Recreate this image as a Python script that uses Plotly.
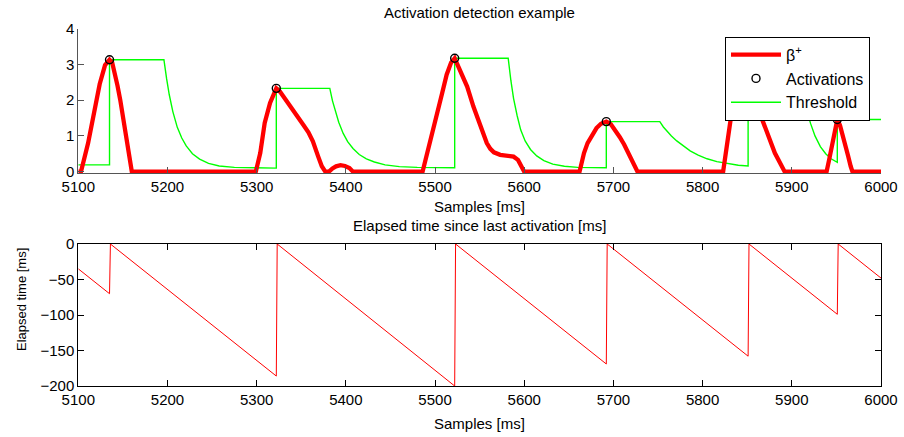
import plotly.graph_objects as go

# ---- data -------------------------------------------------------------
beta_x = [5100, 5103, 5111, 5119, 5124, 5130, 5135, 5138, 5141, 5144, 5147, 5150, 5153, 5156, 5160,
          5299, 5304, 5309, 5315, 5322, 5326, 5330, 5336, 5341, 5347, 5352, 5358, 5363, 5369, 5373, 5377,
          5381, 5385, 5389, 5394, 5399, 5404, 5408,
          5486, 5491, 5496, 5502, 5508, 5513, 5518, 5522, 5528, 5536, 5543, 5551, 5558, 5562, 5566, 5573,
          5581, 5588, 5593, 5597, 5600,
          5662, 5664, 5667, 5671, 5676, 5681, 5686, 5692, 5697, 5702, 5707, 5712, 5717, 5722, 5727,
          5823, 5833, 5838, 5844, 5851, 5863, 5872, 5881, 5892,
          5939, 5942, 5945, 5948, 5951, 5954, 5957, 5960, 5963, 5966, 5968, 6000]
beta_y = [0, 0, 0.80, 1.73, 2.45, 2.98, 3.13, 3.05, 2.78, 2.40, 2.01, 1.55, 1.07, 0.55, 0,
          0, 0.52, 1.36, 1.92, 2.33, 2.24, 2.10, 1.90, 1.70, 1.50, 1.32, 1.10, 0.85, 0.42, 0.15, 0,
          0, 0.09, 0.15, 0.18, 0.16, 0.10, 0,
          0, 0.52, 1.08, 1.64, 2.20, 2.71, 3.05, 3.17, 2.85, 2.38, 1.82, 1.26, 0.80, 0.64, 0.54, 0.47,
          0.45, 0.42, 0.33, 0.15, 0,
          0, 0.25, 0.52, 0.80, 1.04, 1.22, 1.34, 1.40, 1.33, 1.17, 0.97, 0.76, 0.52, 0.26, 0,
          0, 1.73, 2.15, 2.42, 2.50, 1.73, 1.12, 0.52, 0,
          0, 0.35, 0.75, 1.20, 1.46, 1.30, 1.05, 0.75, 0.45, 0.15, 0, 0]

act_x = [5135, 5322, 5522, 5692, 5851, 5951]
act_y = [3.13, 2.33, 3.17, 1.40, 2.50, 1.46]

thr_x = [5100, 5135, 5135, 5196, 5199, 5202, 5206, 5211, 5216, 5221, 5228, 5236, 5246, 5258, 5275, 5300, 5322,
         5322, 5382, 5385, 5388, 5392, 5397, 5402, 5408, 5415, 5423, 5432, 5444, 5460, 5480, 5500, 5522,
         5522, 5582, 5585, 5588, 5592, 5596, 5601, 5607, 5614, 5622, 5632, 5645, 5660, 5680, 5692,
         5692, 5752, 5756, 5760, 5765, 5771, 5778, 5786, 5795, 5805, 5816, 5828, 5840, 5851,
         5851, 5911, 5914, 5917, 5921, 5926, 5932, 5938, 5944, 5951,
         5951, 6000]
thr_y = [0.19, 0.19, 3.13, 3.13, 2.60, 2.15, 1.68, 1.24, 0.94, 0.72, 0.50, 0.35, 0.23, 0.16, 0.12, 0.10, 0.10,
         2.33, 2.33, 1.98, 1.70, 1.38, 1.07, 0.84, 0.65, 0.48, 0.36, 0.27, 0.19, 0.14, 0.12, 0.11, 0.11,
         3.17, 3.17, 2.55, 2.05, 1.57, 1.17, 0.86, 0.62, 0.44, 0.31, 0.21, 0.15, 0.12, 0.11, 0.11,
         1.40, 1.40, 1.25, 1.13, 1.00, 0.86, 0.72, 0.58, 0.46, 0.36, 0.28, 0.22, 0.18, 0.16,
         2.50, 2.50, 2.05, 1.70, 1.35, 1.00, 0.70, 0.50, 0.36, 0.26,
         1.46, 1.46]

elapsed_x = [5100, 5135, 5136, 5322, 5323, 5522, 5523, 5692, 5693, 5851, 5852, 5951, 5952, 6000]
elapsed_y = [-35, -70, 0, -186, 0, -200, 0, -169, 0, -158, 0, -99, 0, -48]

x_ticks = list(range(5100, 6001, 100))
top_y_ticks = [0, 1, 2, 3, 4]
bottom_y_ticks = [0, -50, -100, -150, -200]

# ---- page geometry ------------------------------------------------------
FIG_W, FIG_H = 904, 437


def px(x):
    """Pixel column -> paper fraction."""
    return x / FIG_W


def py(y):
    """Pixel row (from top) -> paper fraction."""
    return 1 - y / FIG_H


FONT = "Liberation Sans, Arial, Helvetica, sans-serif"
FS = 15

fig = go.Figure()

# Threshold first so the beta curve sits on top of it
fig.add_trace(go.Scatter(x=thr_x, y=thr_y, mode="lines", name="Threshold",
                         line=dict(color="#00FF00", width=1.4), legendrank=3, legendgroup="c",
                         xaxis="x", yaxis="y"))
fig.add_trace(go.Scatter(x=beta_x, y=beta_y, mode="lines", name="β<sup>+</sup>",
                         line=dict(color="#FF0000", width=4.3), legendrank=1, legendgroup="a",
                         xaxis="x", yaxis="y"))
fig.add_trace(go.Scatter(x=act_x, y=act_y, mode="markers", name="Activations",
                         marker=dict(symbol="circle-open", size=8, color="black",
                                     line=dict(width=1.4, color="black")),
                         legendrank=2, legendgroup="b", cliponaxis=False, xaxis="x", yaxis="y"))
fig.add_trace(go.Scatter(x=elapsed_x, y=elapsed_y, mode="lines", showlegend=False,
                         line=dict(color="#FF0000", width=1), xaxis="x2", yaxis="y2"))

x_dom = [px(78.3), px(881)]
tick_font = dict(family=FONT, size=FS, color="black")

common = dict(ticks="inside", ticklen=6, tickfont=tick_font, showgrid=False,
              zeroline=False, showline=True, automargin=False)

fig.update_layout(
    width=FIG_W, height=FIG_H,
    margin=dict(l=0, r=0, t=0, b=0, pad=0, autoexpand=False),
    paper_bgcolor="white", plot_bgcolor="white",
    font=dict(family=FONT, size=FS, color="black"),
    xaxis=dict(**common, range=[5100, 6000], tickvals=x_ticks, domain=x_dom, anchor="y",
               linecolor="#555555", tickcolor="#555555"),
    yaxis=dict(**common, range=[-0.04, 4], tickvals=top_y_ticks,
               domain=[py(173.1), py(28.6)], anchor="x",
               linecolor="#555555", tickcolor="#555555"),
    xaxis2=dict(**common, range=[5100, 6000], tickvals=x_ticks, domain=x_dom, anchor="y2",
                linecolor="black", tickcolor="black", mirror="ticks"),
    yaxis2=dict(**common, range=[-200, 0], tickvals=bottom_y_ticks,
                domain=[py(386), py(244)], anchor="x2",
                linecolor="black", tickcolor="black", mirror="ticks"),
    legend=dict(x=px(725), y=py(36.7), xanchor="left", yanchor="top",
                bgcolor="white", bordercolor="black", borderwidth=1,
                font=dict(family=FONT, size=16, color="black"),
                tracegroupgap=0, itemwidth=50),
    annotations=[
        dict(text="Activation detection example", x=px(479.5), y=py(12)),
        dict(text="Samples [ms]", x=px(479.5), y=py(207)),
        dict(text="Elapsed time since last activation [ms]", x=px(479.5), y=py(225)),
        dict(text="Samples [ms]", x=px(479.5), y=py(423)),
        dict(text="Elapsed time [ms]", x=px(21), y=py(300), textangle=-90,
             font=dict(family=FONT, size=13)),
    ],
)
fig.update_annotations(xref="paper", yref="paper", showarrow=False,
                       xanchor="center", yanchor="middle")
for a in fig.layout.annotations:
    if a.font.size is None:
        a.font = dict(family=FONT, size=FS)

fig.write_html("out.html")
